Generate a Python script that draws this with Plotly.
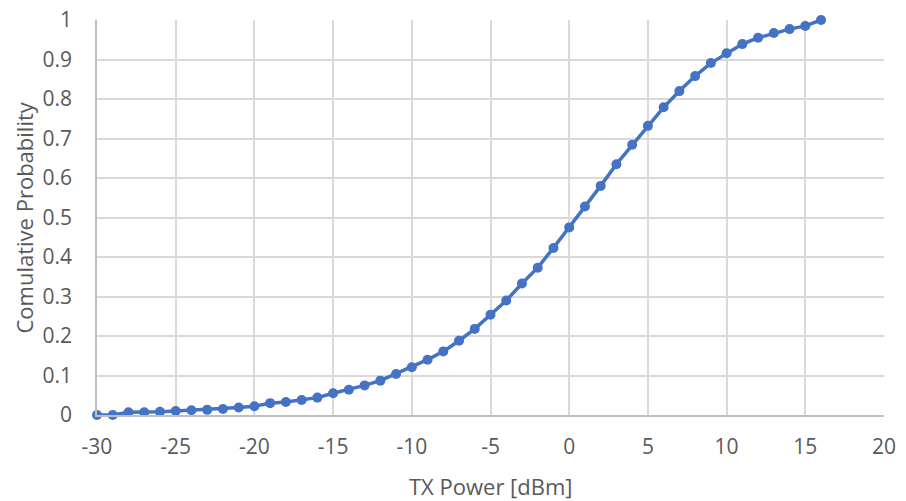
import plotly.graph_objects as go

tx_power = list(range(-30, 17))
cum_prob = [0.0, 0.0, 0.007, 0.007, 0.008, 0.010, 0.012, 0.013, 0.015, 0.019,
            0.022, 0.030, 0.033, 0.038, 0.044, 0.055, 0.064, 0.075, 0.087, 0.104,
            0.121, 0.140, 0.161, 0.188, 0.218, 0.254, 0.290, 0.333, 0.373, 0.423,
            0.475, 0.528, 0.580, 0.635, 0.684, 0.732, 0.779, 0.820, 0.858, 0.891,
            0.916, 0.939, 0.955, 0.967, 0.977, 0.985, 1.0]

x_ticks = list(range(-30, 21, 5))
x_tick_text = [str(v) for v in x_ticks]
y_ticks = [round(i * 0.1, 1) for i in range(11)]
y_tick_text = ["0", "0.1", "0.2", "0.3", "0.4", "0.5", "0.6", "0.7", "0.8", "0.9", "1"]

x_title = "TX Power [dBm]"
y_title = "Comulative Probability"

fig = go.Figure()
fig.add_trace(go.Scatter(
    x=tx_power, y=cum_prob, mode="lines+markers",
    line=dict(color="#4472C4", width=3.5),
    marker=dict(color="#4472C4", size=10),
    cliponaxis=False, showlegend=False,
))

font_family = "Open Sans, Liberation Sans, sans-serif"
text_color = "#595959"
fig.update_layout(
    width=906, height=501,
    margin=dict(l=97, r=22, t=20, b=86),
    paper_bgcolor="white", plot_bgcolor="white",
    font=dict(family=font_family, color=text_color, size=21),
)
fig.update_xaxes(
    range=[-30, 20], tickvals=x_ticks, ticktext=x_tick_text,
    showgrid=True, gridcolor="#d9d9d9", gridwidth=1.5,
    showline=True, linecolor="#bfbfbf", linewidth=1.5,
    zeroline=False, ticks="", ticklabelstandoff=12, automargin=False,
    ticklabeloverflow="allow",
)
fig.update_yaxes(
    range=[0, 1], tickvals=y_ticks, ticktext=y_tick_text,
    showgrid=True, gridcolor="#d9d9d9", gridwidth=1.5,
    showline=True, linecolor="#bfbfbf", linewidth=1.5,
    zeroline=False, ticks="", ticklabelstandoff=19, automargin=False,
    ticklabeloverflow="allow",
)
fig.add_annotation(
    text=x_title, xref="paper", yref="paper", x=0.5, y=0,
    xanchor="center", yanchor="middle", yshift=-71, showarrow=False,
    font=dict(size=22, color=text_color),
)
fig.add_annotation(
    text=y_title, xref="paper", yref="paper", x=0, y=0.5, textangle=-90,
    xanchor="center", yanchor="middle", xshift=-74, showarrow=False,
    font=dict(size=22, color=text_color),
)
fig.write_html(
    "out.html",
    config={"displayModeBar": False},
    post_script="document.body.style.margin='0';document.body.style.overflow='hidden';",
)
